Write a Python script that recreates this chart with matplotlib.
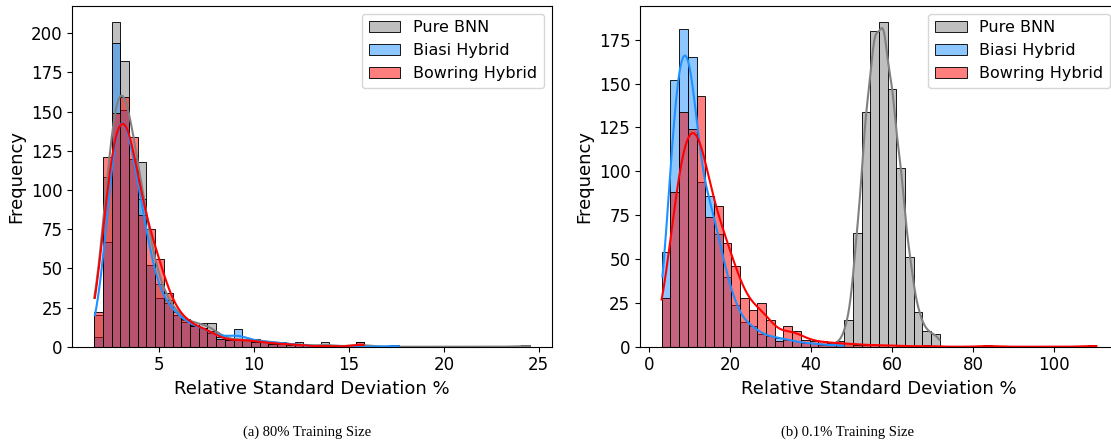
import numpy as np
import pandas as pd
import matplotlib
matplotlib.use('Agg')
import matplotlib.pyplot as plt
import seaborn as sns

labels = ['Pure BNN', 'Biasi Hybrid', 'Bowring Hybrid']
colors = ['gray', 'dodgerblue', 'red']

# (a) 80% training size, 50 common bins between the overall min and max
range_a = (1.56, 24.54)
bnn_a = [20, 108, 207, 182, 120, 118, 52, 40, 30, 20, 17, 14, 15, 15, 5, 4, 5, 4, 5, 3,
         3, 3, 0, 3, 0, 0, 3, 0, 0, 0, 3, 0, 0, 0, 0, 0, 0, 0, 0, 0,
         0, 0, 0, 0, 0, 0, 0, 0, 0, 1]
biasi_a = [6, 67, 194, 151, 120, 94, 52, 31, 28, 20, 16, 13, 12, 9, 6, 5, 11, 4, 4, 3,
           3, 2, 2, 1, 1, 0, 0, 0, 0, 0, 0, 0, 0, 0, 1, 0, 0, 0, 0, 0,
           0, 0, 0, 0, 0, 0, 0, 0, 0, 0]
bowring_a = [22, 121, 149, 159, 134, 84, 75, 56, 34, 22, 18, 13, 12, 10, 5, 4, 4, 5, 3, 3,
             2, 2, 1, 2, 0, 0, 1, 0, 0, 0, 3, 0, 0, 0, 0, 0, 0, 0, 0, 0,
             0, 0, 0, 0, 0, 0, 0, 0, 0, 0]

# (b) 0.1% training size
range_b = (3.07, 110.5)
bnn_b = [0, 0, 0, 0, 0, 0, 0, 0, 0, 0, 0, 0, 0, 0, 0, 0, 0, 0, 0, 1,
         3, 15, 65, 134, 180, 185, 147, 102, 51, 20, 9, 7, 0, 0, 0, 0, 0, 0, 0, 0,
         0, 0, 0, 0, 0, 0, 0, 0, 0, 0]
biasi_b = [54, 152, 181, 165, 94, 86, 64, 40, 24, 14, 12, 7, 6, 5, 4, 3, 2, 2, 1, 1,
           1, 0, 0, 0, 0, 0, 0, 0, 0, 0, 0, 0, 0, 0, 0, 0, 0, 0, 0, 0,
           0, 0, 0, 0, 0, 0, 0, 0, 0, 0]
bowring_b = [28, 88, 134, 124, 143, 74, 80, 59, 46, 28, 21, 25, 15, 3, 12, 9, 4, 3, 3, 2,
             2, 2, 1, 1, 1, 1, 0, 1, 0, 0, 1, 0, 0, 0, 0, 0, 0, 1, 0, 0,
             0, 0, 0, 0, 0, 0, 0, 0, 0, 1]


def draw_panel(ax, value_range, series, font_size=13):
    edges = np.linspace(value_range[0], value_range[1], 51)
    centers = (edges[:-1] + edges[1:]) / 2
    binwidth = edges[1] - edges[0]
    for counts, color, label in zip(series, colors, labels):
        df = pd.DataFrame({'center': centers, 'count': counts})
        df = df[df['count'] > 0]
        # weighted kde uses the effective n, scale back to the real sample size
        w = df['count'].to_numpy(dtype=float)
        x = df['center'].to_numpy()
        n = w.sum()
        n_eff = n ** 2 / (w ** 2).sum()
        bw = (n_eff / n) ** 0.2
        # stretch the curve roughly to the outer bin edges
        mean = (w * x).sum() / n
        std = np.sqrt((w * (x - mean) ** 2).sum() / n)
        cut = 0.5 * (binwidth / 2) / (std * n ** -0.2)
        sns.histplot(data=df, x='center', weights='count', bins=50, binrange=value_range,
                     kde=True, kde_kws={'bw_adjust': bw, 'cut': cut},
                     color=color, alpha=0.5, edgecolor='black', label=label, ax=ax)
    span = value_range[1] - value_range[0]
    ax.set_xlim(value_range[0] - 0.05 * span, value_range[1] + 0.05 * span)
    ax.set_xlabel('Relative Standard Deviation %', fontsize=font_size)
    ax.set_ylabel('Frequency', fontsize=font_size)
    ax.tick_params(labelsize=12)
    ax.legend(loc='upper right', fontsize=11.5)


fig = plt.figure(figsize=(11.11, 4.46), dpi=100)
ax1 = fig.add_axes([0.0651, 0.2226, 0.4315, 0.7639])
ax2 = fig.add_axes([0.5761, 0.2226, 0.4302, 0.7639])

draw_panel(ax1, range_a, [bnn_a, biasi_a, bowring_a])
draw_panel(ax2, range_b, [bnn_b, biasi_b, bowring_b])

fig.text(0.2765, 0.031, '(a) 80% Training Size', ha='center', va='center',
         family='Liberation Serif', fontsize=10.5)
fig.text(0.7625, 0.031, '(b) 0.1% Training Size', ha='center', va='center',
         family='Liberation Serif', fontsize=10.5)

plt.savefig('out.png', dpi=100)
